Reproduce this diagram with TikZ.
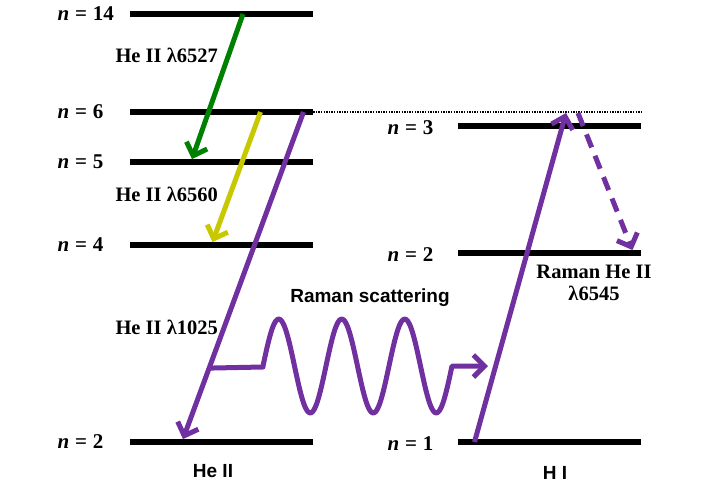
\documentclass[tikz,border=0pt]{standalone}
\usepackage{amsmath}
\usepackage[no-math]{fontspec}
\setmainfont{Liberation Serif}
\setsansfont{Liberation Sans}
\usepackage{tikz}
\usetikzlibrary{arrows.meta,calc}
\definecolor{hegreen}{RGB}{0,128,0}
\definecolor{heyellow}{RGB}{200,200,0}
\definecolor{hepurple}{RGB}{112,48,160}
\newcommand{\labfont}{\fontsize{20.5}{22}\selectfont\bfseries}
\newcommand{\sanslabfont}{\sffamily\fontsize{19}{22}\selectfont\bfseries}
\newcommand{\lvl}[1]{{\fontsize{21}{22}\selectfont\textit{n}\;=\;#1}}

\begin{document}
\begin{tikzpicture}[x=1pt,y=-1pt,>={Straight Barb[length=11pt,width=22pt]},
  font=\labfont]
  \tikzstyle{energy}=[fill=black,minimum width=183pt,minimum height=5.5pt,inner sep=0pt]
  \tikzstyle{trans}=[->,line width=5pt,line join=round]
  \tikzstyle{sans}=[font=\sanslabfont]

  \useasboundingbox (0,0) rectangle (702,496);

  % He II levels
  \node[energy] (he14) at (221.5,14) {};
  \node[energy] (he6) at (221.5,112) {};
  \node[energy] (he5) at (221.5,162) {};
  \node[energy] (he4) at (221.5,245) {};
  \node[energy] (he2) at (221.5,442) {};
  \node[anchor=west] (nhe14) at (54,14) {\lvl{14}};
  \node[anchor=west] (nhe6) at (54,112) {\lvl{6}};
  \node[anchor=west] (nhe5) at (54,162) {\lvl{5}};
  \node[anchor=west] (nhe4) at (54,245) {\lvl{4}};
  \node[anchor=west] (nhe2) at (54,442) {\lvl{2}};
  % H I levels
  \node[energy] (hi3) at (549.5,126) {};
  \node[energy] (hi2) at (549.5,253) {};
  \node[energy] (hi1) at (549.5,442) {};
  \node[anchor=west] (nhi3) at (384,128) {\lvl{3}};
  \node[anchor=west] (nhi2) at (384,255) {\lvl{2}};
  \node[anchor=west] (nhi1) at (384,444) {\lvl{1}};
  \draw[line width=1.3pt,dash pattern=on 1.3pt off 1.3pt] (he6.east) -- (hi3.east |- he6.center);

  \coordinate (vup) at (566,113);
  \coordinate (vdn) at (578,113);
  \coordinate (p6) at ($(he6.center)+(82,0)$);
  \coordinate (p2) at ($(he2.north)+(-38.5,0)$);
  \coordinate (ws) at ($(p6)!0.783!(p2)$);
  \coordinate (we) at (488,366);

  \draw[trans,hegreen] ($(he14.center)+(21.5,0)$) -- ($(he5.north)+(-29.5,0)$);
  \draw[trans,heyellow] ($(he6.center)+(39,0)$) -- ($(he4.north)+(-9,0)$);
  \draw[trans,hepurple] (p6) -- (p2);
  \draw[trans,hepurple] (ws) -- (263,367)
    -- plot[domain=0:3,samples=120,smooth] ({263+63*\x},{366-47*sin(360*\x)})
    -- (we);
  \draw[trans,hepurple] ($(hi1.center)+(-75,0)$) -- (vup);
  \draw[trans,hepurple,dash pattern=on 14pt off 9pt] (vdn) -- ($(hi2.north)+(83,0)$);

  \node[anchor=west] (l6527) at (112,55) {He II λ6527};
  \node[anchor=west] (l6560) at (112,194) {He II λ6560};
  \node[anchor=west] (l1025) at (112,327) {He II λ1025};
  \node[sans] (raman) at (370,298) {Raman scattering};
  \node[align=center] (rhe) at (594,283) {Raman He II\\λ6545};
  \node[sans] (heii) at (213,471) {He II};
  \node[sans] (hi) at (555,473) {H I};
\end{tikzpicture}
\end{document}
